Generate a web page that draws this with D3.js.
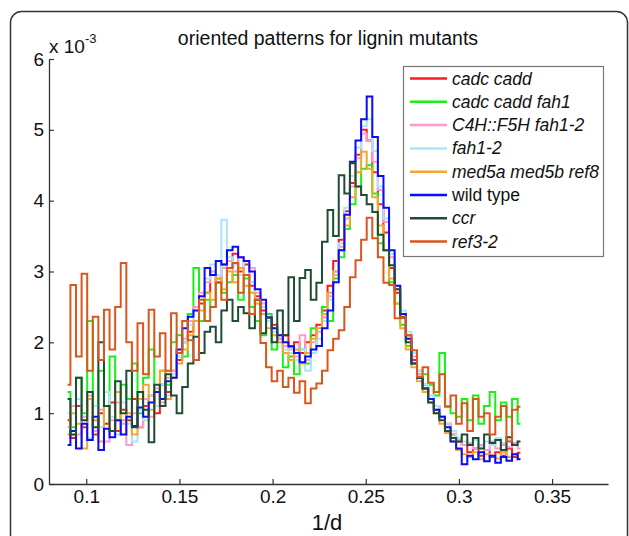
<!DOCTYPE html>
<html>
<head>
<meta charset="utf-8">
<script src="https://cdn.jsdelivr.net/npm/d3@7"></script>
<style>
  body { margin: 0; background: #fff; }
  text { font-family: "Liberation Sans", Arial, sans-serif; }
</style>
</head>
<body>
<svg id="chart" width="629" height="536"></svg>
<script>
// x grid (1/d), 0.090 .. 0.333 step 0.003
var xs = d3.range(82).map(function(i){ return +(0.090 + 0.003 * i).toFixed(3); });

// values in units of 1e-3
var cadcCadd = [0.9,0.65,1.1,0.8,1.2,0.7,1.0,0.85,1.15,0.75,
  1.05,0.9,1.2,0.8,1.1,1.25,1.0,1.4,1.3,1.6,
  1.75,2.0,2.15,2.3,2.55,2.7,2.95,2.85,3.1,3.05,
  3.25,3.0,3.1,2.8,2.65,2.45,2.3,2.25,2.05,2.1,
  1.95,2.0,1.85,2.0,2.1,2.25,2.45,2.80,3.15,3.45,
  3.85,4.25,4.65,5.00,4.85,4.40,3.95,3.55,3.05,2.70,
  2.35,2.10,1.75,1.55,1.40,1.20,1.10,0.95,0.85,0.70,
  0.60,0.55,0.45,0.50,0.40,0.48,0.38,0.45,0.40,0.50,0.38,0.44];
var cadcCaddFah1 = [1.3,0.8,1.5,1.0,2.30,0.9,1.6,1.1,1.8,0.9,
  1.4,1.2,1.7,1.0,1.5,1.9,1.3,1.6,1.4,2.0,
  2.1,1.8,2.4,3.05,2.3,2.6,2.5,2.9,2.7,2.85,
  2.95,2.6,2.9,2.5,2.3,2.1,2.4,1.9,2.0,1.65,
  1.8,1.55,1.9,1.7,2.2,1.95,2.5,2.3,2.9,3.2,
  3.6,3.95,4.2,4.45,4.50,4.10,3.40,3.30,2.85,2.55,
  2.25,1.95,1.85,1.60,1.55,1.40,1.25,1.85,1.10,1.00,
  0.95,1.20,0.90,1.25,0.85,1.10,1.30,0.90,1.15,0.95,1.20,0.85];
var c4hF5h = [0.8,1.1,0.7,0.95,1.25,0.75,1.05,0.6,0.9,1.15,
  0.85,0.55,1.0,0.8,1.2,0.95,1.35,1.15,1.5,1.6,
  1.85,2.05,2.3,2.5,2.7,2.85,3.0,2.9,3.05,3.15,
  3.0,3.2,2.95,3.05,2.7,2.55,2.35,2.2,2.05,1.95,
  1.9,1.80,2.1,1.75,2.0,2.15,2.35,2.65,2.95,3.35,
  3.75,4.20,4.60,4.95,4.85,4.55,4.15,3.70,3.20,2.75,
  2.40,2.05,1.80,1.55,1.35,1.20,1.05,0.95,0.80,0.70,
  0.62,0.55,0.58,0.50,0.55,0.48,0.60,0.50,0.55,0.52,0.58,0.50];
var fah12 = [1.0,0.7,1.2,0.9,0.65,1.1,0.8,1.3,0.95,0.7,
  1.15,0.85,0.6,1.05,0.9,1.25,1.1,1.4,1.25,1.55,
  1.8,2.0,2.25,2.45,2.6,2.9,3.1,2.95,3.73,3.2,
  3.1,2.95,3.15,2.85,2.6,2.5,2.3,2.15,2.0,1.9,
  1.85,1.75,1.9,1.6,1.85,2.05,2.3,2.6,3.0,3.4,
  3.9,4.35,4.75,5.05,5.15,4.70,4.20,3.75,3.25,2.80,
  2.45,2.15,1.85,1.60,1.40,1.25,1.10,0.95,0.85,0.75,
  0.65,0.60,0.55,0.62,0.52,0.60,0.55,0.65,0.58,0.62,0.55,0.60];
var med5 = [0.7,1.0,0.85,0.5,1.2,0.9,0.6,1.1,0.75,1.3,
  0.9,1.0,0.7,1.2,1.4,1.05,1.3,1.6,1.2,1.5,
  1.7,1.9,2.1,2.3,2.45,2.7,2.6,2.9,2.75,3.0,
  2.85,3.05,2.8,2.7,2.55,2.4,2.2,2.1,2.0,1.85,
  1.75,1.9,1.7,1.85,2.05,2.2,2.4,2.7,3.0,3.3,
  3.65,4.05,4.40,4.69,4.45,4.05,3.65,3.30,2.90,2.55,
  2.20,1.90,1.65,1.45,1.30,1.15,1.00,0.85,0.72,0.60,
  0.48,0.42,0.38,0.45,0.35,0.42,0.40,0.36,0.45,0.38,0.42,0.36];
var wildType = [0.55,0.75,0.50,0.85,0.62,0.95,0.48,0.78,0.66,0.90,
  0.70,0.95,0.82,1.08,0.95,1.15,1.30,1.20,1.45,1.50,
  1.90,2.20,2.36,2.45,2.65,3.05,2.95,3.15,3.10,3.30,
  3.35,3.20,3.15,3.00,2.75,2.60,2.35,2.20,2.10,2.00,
  1.94,1.85,1.72,1.80,1.90,1.95,2.20,2.45,2.85,3.30,
  3.80,4.55,4.85,5.15,5.47,4.90,4.35,3.90,3.30,2.80,
  2.40,2.05,1.70,1.50,1.35,1.20,1.05,0.95,0.80,0.60,
  0.50,0.28,0.40,0.35,0.45,0.32,0.40,0.30,0.38,0.33,0.42,0.35];
var ccr = [1.2,0.7,1.5,0.9,1.3,0.8,2.0,1.1,0.75,1.45,
  1.0,1.6,0.8,1.3,1.05,0.59,1.4,1.1,1.55,1.25,
  1.0,1.37,1.7,2.08,1.85,2.15,2.22,2.0,2.45,2.6,
  2.3,2.5,2.41,2.2,2.6,2.13,2.35,2.0,2.45,2.1,
  2.92,2.3,2.91,3.02,2.6,2.84,3.42,3.87,3.50,4.36,
  4.10,4.53,4.20,4.08,3.95,3.84,3.52,3.30,3.09,2.75,
  2.35,2.00,1.70,1.50,1.35,1.15,1.00,0.90,0.75,0.65,
  0.60,0.70,0.55,0.65,0.50,0.70,0.58,0.62,0.48,0.66,0.55,0.60];
var ref32 = [1.4,2.81,1.8,2.97,1.6,2.36,1.75,2.46,1.9,2.50,
  3.12,2.0,1.6,2.27,1.55,2.46,1.8,2.13,1.6,2.41,
  1.85,2.30,2.03,1.75,2.6,2.3,2.5,2.84,2.6,3.05,
  3.12,2.7,2.95,2.4,2.6,1.99,1.65,1.45,1.6,1.37,
  1.5,1.29,1.45,1.14,1.35,1.42,1.6,1.89,2.05,2.17,
  2.5,2.92,3.16,3.45,3.76,3.47,3.20,2.84,2.81,2.34,
  2.36,2.10,1.89,1.51,1.65,1.43,1.30,1.55,1.09,1.25,
  0.85,1.14,0.75,1.20,0.95,1.00,0.70,0.95,1.10,0.60,1.05,1.09];

var seriesNames = ["cadc cadd", "cadc cadd fah1", "C4H::F5H fah1-2", "fah1-2",
  "med5a med5b ref8", "wild type", "ccr", "ref3-2"];
var seriesValues = [cadcCadd, cadcCaddFah1, c4hF5h, fah12, med5, wildType, ccr, ref32];
var seriesColors = ["#ff1a1a", "#19f019", "#ff99cc", "#a8e6fb",
  "#f0a830", "#0a0aff", "#1e4d33", "#dc561c"];
var xTicks = [0.1, 0.15, 0.2, 0.25, 0.3, 0.35];
var yTicks = [0, 1, 2, 3, 4, 5, 6];

var svg = d3.select("#chart");

// panel frame
svg.append("rect")
  .attr("x", 10.5).attr("y", 11.5)
  .attr("width", 617).attr("height", 600)
  .attr("rx", 11)
  .attr("fill", "#fff")
  .attr("stroke", "#333")
  .attr("stroke-width", 1.5);

var x = d3.scaleLinear().domain([0.08, 0.38]).range([49, 608]);
var y = d3.scaleLinear().domain([0, 6]).range([484, 59]);

// lines
var line = d3.line()
  .x(function(d){ return x(d[0]); })
  .y(function(d){ return y(d[1]); })
  .curve(d3.curveStep);

seriesValues.forEach(function(vals, k){
  svg.append("path")
    .datum(xs.map(function(xv, i){ return [xv, vals[i]]; }))
    .attr("fill", "none")
    .attr("stroke", seriesColors[k])
    .attr("stroke-width", 2)
    .attr("stroke-linejoin", "miter")
    .attr("d", line);
});

// axes, ticks point inward like matlab
var xAxis = d3.axisBottom(x).tickValues(xTicks)
  .tickFormat(function(d){ return String(d); })
  .tickSizeInner(-5).tickSizeOuter(0).tickPadding(6);
var gx = svg.append("g").attr("transform", "translate(0,484)").call(xAxis);

var yAxis = d3.axisLeft(y).tickValues(yTicks)
  .tickFormat(d3.format("d"))
  .tickSizeInner(-5).tickSizeOuter(0).tickPadding(5);
var gy = svg.append("g").attr("transform", "translate(49,0)").call(yAxis);

[gx, gy].forEach(function(g){
  g.select(".domain").attr("stroke", "#333").attr("stroke-width", 1.3);
  g.selectAll(".tick line").attr("stroke", "#333").attr("stroke-width", 1.2);
  g.selectAll(".tick text")
    .attr("fill", "#111")
    .style("font-size", "19px")
    .style("font-family", "'Liberation Sans', Arial, sans-serif");
});

// exponent label
var expo = svg.append("text").attr("x", 49).attr("y", 53)
  .attr("fill", "#111").style("font-size", "19px");
expo.append("tspan").text("x 10");
expo.append("tspan").attr("dy", -10).style("font-size", "13px").text("-3");

// title and x label
svg.append("text").attr("x", 328).attr("y", 45)
  .attr("text-anchor", "middle").attr("fill", "#111")
  .style("font-size", "19.5px")
  .text("oriented patterns for lignin mutants");

svg.append("text").attr("x", 327).attr("y", 530)
  .attr("text-anchor", "middle").attr("fill", "#111")
  .style("font-size", "22px")
  .text("1/d");

// legend
var lg = svg.append("g");
lg.append("rect")
  .attr("x", 403.5).attr("y", 66.5)
  .attr("width", 200).attr("height", 190)
  .attr("fill", "#fff").attr("stroke", "#777").attr("stroke-width", 1.2);

seriesNames.forEach(function(name, k){
  var yy = 78.5 + k * 23.3;
  lg.append("line")
    .attr("x1", 410).attr("x2", 447)
    .attr("y1", yy).attr("y2", yy)
    .attr("stroke", seriesColors[k]).attr("stroke-width", 2.5);
  lg.append("text")
    .attr("x", 452).attr("y", yy + 6)
    .attr("fill", "#111")
    .style("font-size", "17.5px")
    .style("font-style", name === "wild type" ? "normal" : "italic")
    .text(name);
});
</script>
</body>
</html>
